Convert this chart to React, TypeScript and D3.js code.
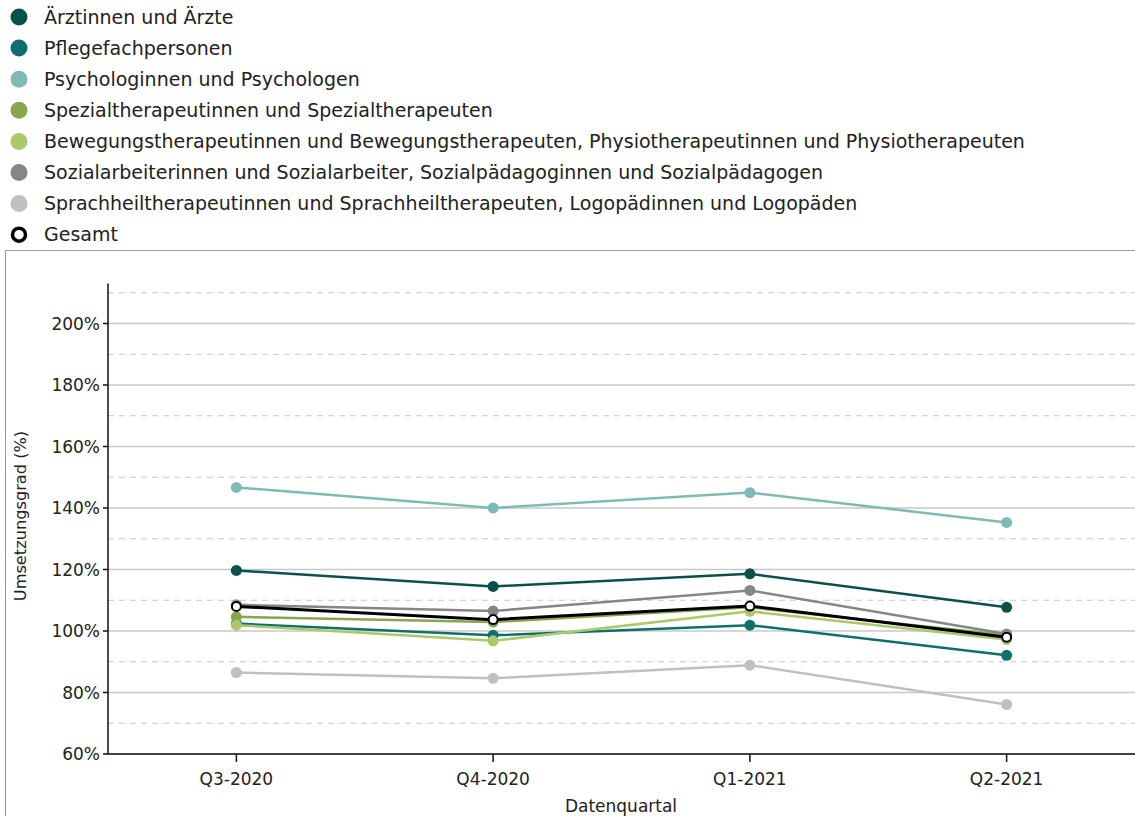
import React from "react";
import * as d3 from "d3";

const quarters = ["Q3-2020", "Q4-2020", "Q1-2021", "Q2-2021"];
const seriesNames = [
  "Ärztinnen und Ärzte",
  "Pflegefachpersonen",
  "Psychologinnen und Psychologen",
  "Spezialtherapeutinnen und Spezialtherapeuten",
  "Bewegungstherapeutinnen und Bewegungstherapeuten, Physiotherapeutinnen und Physiotherapeuten",
  "Sozialarbeiterinnen und Sozialarbeiter, Sozialpädagoginnen und Sozialpädagogen",
  "Sprachheiltherapeutinnen und Sprachheiltherapeuten, Logopädinnen und Logopäden",
  "Gesamt",
];
const seriesColors = ["#0b504d", "#0e706b", "#7fbbb6", "#87a74c", "#a9c96b", "#868686", "#bfc0c2", "#000000"];
const aerzte = [119.7, 114.5, 118.6, 107.7];
const pflege = [102.4, 98.6, 101.9, 92.1];
const psycho = [146.7, 140.0, 145.0, 135.3];
const spezial = [104.6, 102.9, 107.7, 98.6];
const bewegung = [101.9, 96.8, 106.4, 97.2];
const sozial = [108.5, 106.5, 113.2, 99.0];
const sprach = [86.5, 84.6, 88.9, 76.1];
const gesamt = [108.0, 103.7, 108.1, 98.0];
const seriesValues = [aerzte, pflege, psycho, spezial, bewegung, sozial, sprach, gesamt];
const majorTicks = [60, 80, 100, 120, 140, 160, 180, 200];
const minorTicks = [70, 90, 110, 130, 150, 170, 190, 210];

const W = 1135;
const H = 816;
const FONT = "'DejaVu Sans', sans-serif";

export default function App() {
  const left = 108;
  const right = 1135;
  const x = d3.scalePoint<string>().domain(quarters).range([left, right]).padding(0.5);
  const y = d3.scaleLinear().domain([60, 200]).range([754, 323.5]);
  const yTop = y(213);
  const line = d3
    .line<number>()
    .x((_, i) => x(quarters[i]) as number)
    .y((d) => y(d));

  return (
    <svg
      width={W}
      height={H}
      style={{ position: "absolute", left: 0, top: 0, background: "#fff" }}
      fontFamily={FONT}
    >
      {/* legend */}
      {seriesNames.map((name, i) => {
        const cy = 17 + i * 31.1;
        const isTotal = i === seriesNames.length - 1;
        return (
          <g key={name}>
            <circle
              cx={19}
              cy={cy}
              r={isTotal ? 6.5 : 8.5}
              fill={isTotal ? "#fff" : seriesColors[i]}
              stroke={isTotal ? "#000" : "none"}
              strokeWidth={isTotal ? 3.5 : 0}
            />
            <text x={44} y={cy + 6.5} fontSize={19} fill="#222">
              {name}
            </text>
          </g>
        );
      })}

      {/* frame */}
      <rect x={5.5} y={250.5} width={W} height={H} fill="none" stroke="#999" strokeWidth={1} />

      {/* grid */}
      {minorTicks.map((t) => (
        <line key={"m" + t} x1={left} x2={right} y1={y(t)} y2={y(t)} stroke="#c8c8c8" strokeDasharray="6,5" strokeWidth={1} />
      ))}
      {majorTicks.map((t) => (
        <line key={"M" + t} x1={left} x2={right} y1={y(t)} y2={y(t)} stroke="#c8c8c8" strokeWidth={1.5} />
      ))}

      {/* axes */}
      <line x1={left} x2={left} y1={yTop} y2={y(60)} stroke="#111" strokeWidth={1.5} />
      <line x1={left} x2={right} y1={y(60)} y2={y(60)} stroke="#111" strokeWidth={1.5} />
      {majorTicks.map((t) => (
        <g key={"yt" + t}>
          <line x1={left - 5} x2={left} y1={y(t)} y2={y(t)} stroke="#111" strokeWidth={1.5} />
          <text x={100} y={y(t) + 6} fontSize={17} textAnchor="end" fill="#222">
            {t + "%"}
          </text>
        </g>
      ))}
      {quarters.map((q) => (
        <g key={q}>
          <line x1={x(q)} x2={x(q)} y1={y(60)} y2={y(60) + 8} stroke="#111" strokeWidth={1.5} />
          <text x={x(q)} y={785} fontSize={17} textAnchor="middle" fill="#222">
            {q}
          </text>
        </g>
      ))}
      <text x={621} y={812} fontSize={17} textAnchor="middle" fill="#222">
        Datenquartal
      </text>
      <text
        transform={`translate(26, ${516}) rotate(-90)`}
        fontSize={16.2}
        textAnchor="middle"
        fill="#222"
      >
        Umsetzungsgrad (%)
      </text>

      {/* series */}
      {seriesValues.map((vals, si) => {
        const isTotal = si === seriesValues.length - 1;
        return (
          <g key={"s" + si}>
            <path d={line(vals) ?? ""} fill="none" stroke={seriesColors[si]} strokeWidth={isTotal ? 3 : 2.5} />
            {vals.map((v, i) => (
              <circle
                key={i}
                cx={x(quarters[i])}
                cy={y(v)}
                r={isTotal ? 4.5 : 5.5}
                fill={isTotal ? "#fff" : seriesColors[si]}
                stroke={isTotal ? "#000" : "none"}
                strokeWidth={isTotal ? 2 : 0}
              />
            ))}
          </g>
        );
      })}
    </svg>
  );
}
